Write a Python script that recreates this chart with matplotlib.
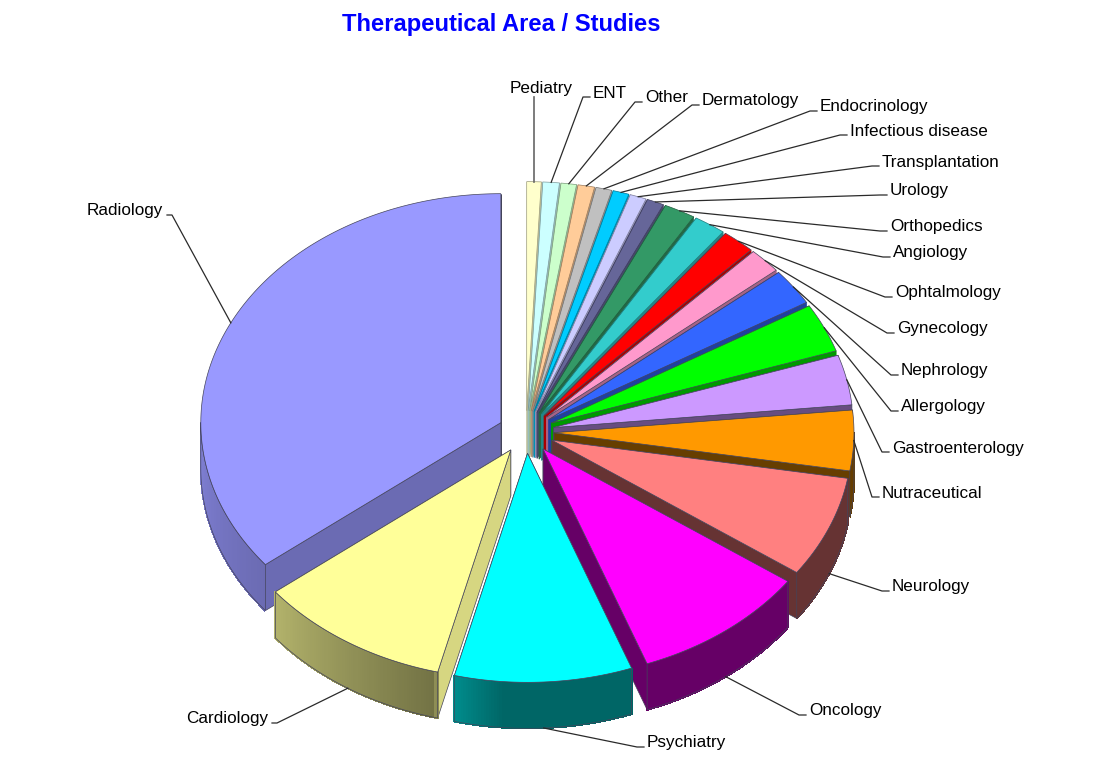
import numpy as np
import matplotlib
matplotlib.use('Agg')
from matplotlib import pyplot as plt
from matplotlib.patches import Polygon
from matplotlib.colors import to_rgb

plt.rcParams['font.family'] = ['Liberation Sans', 'DejaVu Sans']

labels = ['Pediatry', 'ENT', 'Other', 'Dermatology', 'Endocrinology', 'Infectious disease',
          'Transplantation', 'Urology', 'Orthopedics', 'Angiology', 'Ophtalmology', 'Gynecology',
          'Nephrology', 'Allergology', 'Gastroenterology', 'Nutraceutical', 'Neurology',
          'Oncology', 'Psychiatry', 'Cardiology', 'Radiology']
# share of the pie, clockwise from 12 o'clock
values = [2.8, 3.2, 3.0, 3.2, 3.1, 3.1, 3.2, 3.3, 6.1, 6.2, 6.4, 6.4,
          9.2, 12.4, 12.7, 15.3, 25.7, 34.4, 34.4, 37.6, 128.3]
colors = ['#FFFFCC', '#CCFFFF', '#CCFFCC', '#FFCC99', '#C0C0C0', '#00CCFF', '#CCCCFF', '#666699',
          '#339966', '#33CCCC', '#FF0000', '#FF99CC', '#3366FF', '#00FF00', '#CC99FF', '#FF9900',
          '#FF8080', '#FF00FF', '#00FFFF', '#FFFF99', '#9999FF']

# label anchor in pixels
label_x = [541, 593, 645, 702, 820, 850, 882, 890, 890, 893, 895, 897, 901, 901, 892, 882, 892, 809, 647, 268, 163]
label_y = [88, 93, 98, 101, 107, 131, 162, 191, 227, 253, 293, 329, 371, 407, 448, 493, 587, 711, 743, 719, 211]

cx, cy = 526, 432
rx, ry = 300, 229
depth = 46
explode = 28
sy = ry / rx


def face_shade(a):
    return np.interp(a, [0, 50, 72, 85, 100, 160, 165, 195, 232, 360],
                     [.75, .65, .6, .5, .4, .4, .84, .84, .7, .7])


def wall_shade(a):
    return np.interp(a, [90, 185, 195, 195.01, 232, 270], [.4, .4, .56, .45, .7, .83])


def shade(col, f):
    return tuple(c * f for c in to_rgb(col))


def apex_of(mid):
    m = np.radians(mid)
    return cx + explode * np.sin(m), cy - explode * sy * np.cos(m)


def rim(ax0, ay0, a):
    t = np.radians(a)
    return ax0 + rx * np.sin(t), ay0 - ry * np.cos(t)


fig = plt.figure(figsize=(11.11, 7.64), dpi=100)
ax = fig.add_axes([0, 0, 1, 1])
ax.set_xlim(0, 1111)
ax.set_ylim(764, 0)
ax.axis('off')

edge = '#44445a'
lw = 0.5
vals = np.array(values, dtype=float)
ends = np.cumsum(vals) * 360 / vals.sum()
starts = ends - vals * 360 / vals.sum()
mids = (starts + ends) / 2

z = 1
for i in np.argsort(-np.abs(mids - 180)):
    a0, a1, mid, col = starts[i], ends[i], mids[i], colors[i]
    x0, y0 = apex_of(mid)

    # the two cut faces, the one that shows goes last
    for a in ((a1, a0) if mid > 180 else (a0, a1)):
        x1, y1 = rim(x0, y0, a)
        fc = shade(col, face_shade(a))
        # thin slices at the back have no dark outline on their faces
        ax.add_patch(Polygon([(x0, y0), (x1, y1), (x1, y1 + depth), (x0, y0 + depth)],
                             fc=fc, ec=fc if mid < 70 else edge, lw=lw, zorder=z))
        z += 1

    # outer wall, only the part facing the viewer
    w0, w1 = max(a0, 90), min(a1, 270)
    if w1 > w0:
        grid = np.linspace(w0, w1, int((w1 - w0) * 2) + 2)
        for g0, g1 in zip(grid[:-1], grid[1:]):
            p0, p1 = rim(x0, y0, g0), rim(x0, y0, g1)
            c = shade(col, wall_shade((g0 + g1) / 2))
            ax.add_patch(Polygon([p0, p1, (p1[0], p1[1] + depth), (p0[0], p0[1] + depth)],
                                 fc=c, ec=c, lw=0.8, antialiased=False, zorder=z))
        pts = [rim(x0, y0, g) for g in grid]
        outline = pts + [(p[0], p[1] + depth) for p in pts[::-1]]
        ax.add_patch(Polygon(outline, fill=False, ec=edge, lw=lw, zorder=z + 1))
        z += 2

    # top of the slice
    arc = [rim(x0, y0, g) for g in np.linspace(a0, a1, int(a1 - a0) + 3)]
    top_edge = shade(col, 0.6) if mid < 40 else edge
    ax.add_patch(Polygon([(x0, y0)] + arc, fc=col, ec=top_edge, lw=lw, zorder=z))
    z += 1

# leader lines and labels
line_col = '#2a2a2a'
for i, name in enumerate(labels):
    mid = mids[i]
    x0, y0 = apex_of(mid)
    xa, ya = rim(x0, y0, mid)
    if 100 < mid < 270:
        ya += depth
    lx, ly = label_x[i], label_y[i]
    if i == 0:
        ax.plot([xa, xa], [ya, ly + 9], color='#666666', lw=1.2, zorder=z + 1)
        ax.text(lx, ly, name, ha='center', va='center', fontsize=12.3, color='black', zorder=z + 2)
    elif mid > 180:
        ax.plot([xa, lx + 9, lx + 4], [ya, ly + 4, ly + 4], color=line_col, lw=0.9, zorder=z + 1)
        ax.text(lx, ly, name, ha='right', va='center', fontsize=12.3, color='black', zorder=z + 2)
    else:
        ax.plot([xa, lx - 10, lx - 3], [ya, ly + 4, ly + 4], color=line_col, lw=0.9, zorder=z + 1)
        ax.text(lx, ly, name, ha='left', va='center', fontsize=12.3, color='black', zorder=z + 2)

ax.text(501, 25, 'Therapeutical Area / Studies', ha='center', va='center',
        fontsize=17.1, fontweight='bold', color='#0000FF')

fig.savefig('out.png', dpi=100)
